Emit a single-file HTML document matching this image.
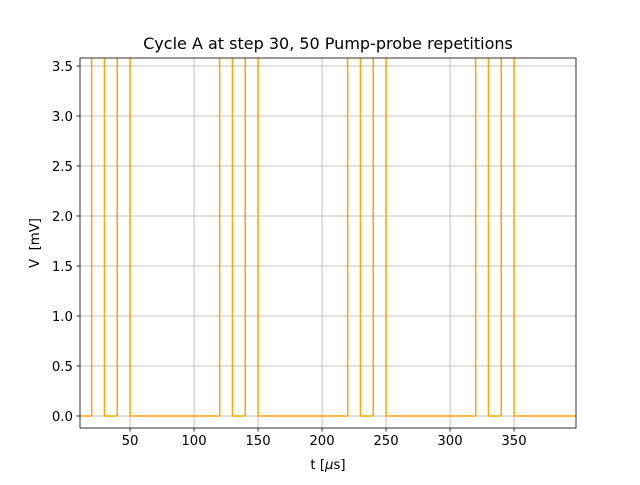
<!DOCTYPE html>
<html><head><meta charset="utf-8"><style>
body{margin:0;background:#fff}
svg text{font-family:"DejaVu Sans","Liberation Sans",sans-serif;fill:#000}
</style></head><body>
<svg id="c" width="640" height="480"></svg>
<script>
const edgesT=[11,20,30,40,50,120,130,140,150,220,230,240,250,320,330,340,350,399];
const levels=[0,3.7,0,3.7,0,3.7,0,3.7,0,3.7,0,3.7,0,3.7,0,3.7,0];
const xTicks=[50,100,150,200,250,300,350];
const yTicks=[0,0.5,1.0,1.5,2.0,2.5,3.0,3.5];
const L=80,R=576,T=58,B=428,xmin=10.9,xmax=398.4,ymin=-0.12,ymax=3.58;
const sx=v=>L+(v-xmin)/(xmax-xmin)*(R-L);
const sy=v=>B-(v-ymin)/(ymax-ymin)*(B-T);
const svg=document.getElementById('c');const NS='http://www.w3.org/2000/svg';
function mk(t,a,p){const e=document.createElementNS(NS,t);for(const k in a)e.setAttribute(k,a[k]);(p||svg).appendChild(e);return e;}
const cp=mk('clipPath',{id:'cp'});mk('rect',{x:L,y:T,width:R-L,height:B-T},cp);
xTicks.forEach(v=>{const x=sx(v);
const g=mk('line',{x1:x,x2:x,y1:T,y2:B,stroke:'#b0b0b0','stroke-width':0.8});

mk('line',{x1:x,x2:x,y1:B,y2:B+3.5,stroke:'#000','stroke-width':0.8});
const t=mk('text',{x:x,y:B+17,'text-anchor':'middle','font-size':13.3});t.textContent=v;
});
yTicks.forEach(v=>{const y=sy(v);
const g=mk('line',{x1:L,x2:R,y1:y,y2:y,stroke:'#b0b0b0','stroke-width':0.8});

mk('line',{x1:L-3.5,x2:L,y1:y,y2:y,stroke:'#000','stroke-width':0.8});
const t=mk('text',{x:L-7,y:y+5,'text-anchor':'end','font-size':13.3});t.textContent=v.toFixed(1);
});
let d='';levels.forEach((v,i)=>{const y=sy(v);d+=(i?'L':'M')+sx(edgesT[i])+','+y+'L'+sx(edgesT[i+1])+','+y;});
const p=mk('path',{d:d,fill:'none',stroke:'#ffa500','stroke-width':1.5,'clip-path':'url(#cp)'});

const f=mk('rect',{x:L,y:T,width:R-L,height:B-T,fill:'none',stroke:'#000','stroke-width':0.8});

const ti=mk('text',{x:(L+R)/2,y:T-9,'text-anchor':'middle','font-size':16});ti.textContent='Cycle A at step 30, 50 Pump-probe repetitions';

const xl=mk('text',{x:(L+R)/2,y:469,'text-anchor':'middle','font-size':13.3});xl.innerHTML='t [<tspan font-style="italic">μ</tspan>s]';

const yl=mk('text',{x:0,y:0,'text-anchor':'middle','font-size':13.3,transform:'translate(39,'+((T+B)/2)+') rotate(-90)'});yl.textContent='V\u00a0 [mV]';

</script></body></html>
